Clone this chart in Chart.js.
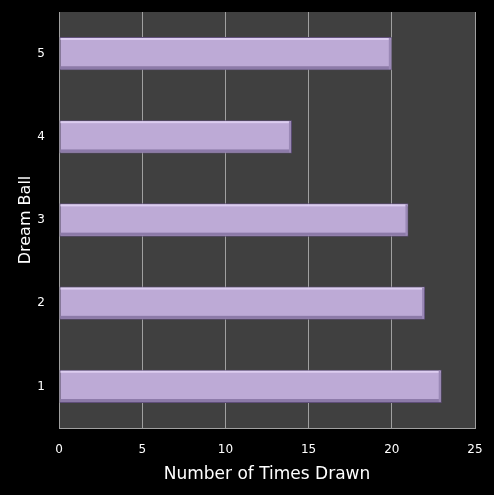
<!DOCTYPE html>
<html>
<head>
<meta charset="utf-8">
<script src="https://cdn.jsdelivr.net/npm/chart.js@4/dist/chart.umd.min.js"></script>
<style>
  html, body { margin: 0; padding: 0; background: #000; }
  #wrap { width: 494px; height: 495px; }
</style>
</head>
<body>
<div id="wrap"><canvas id="chart"></canvas></div>
<script>
// data
const balls = ['1', '2', '3', '4', '5'];
const timesDrawn = [23, 22, 21, 14, 20];
const xTicks = [0, 5, 10, 15, 20, 25];

const FONT = "'DejaVu Sans', sans-serif";

// black page, gray plot area
const backgroundPlugin = {
  id: 'bg',
  beforeDraw(chart) {
    const { ctx, chartArea: a } = chart;
    ctx.save();
    ctx.fillStyle = '#000';
    ctx.fillRect(0, 0, chart.width, chart.height);
    ctx.fillStyle = '#404040';
    ctx.fillRect(a.left, a.top, a.right - a.left, a.bottom - a.top);
    ctx.restore();
  }
};

// bevel look on the bars: light top edge, dark bottom edge
const bevelPlugin = {
  id: 'bevel',
  afterDatasetsDraw(chart) {
    const { ctx } = chart;
    chart.getDatasetMeta(0).data.forEach(bar => {
      const top = bar.y - bar.height / 2;
      const bottom = bar.y + bar.height / 2;
      const left = bar.base;
      const right = bar.x;
      ctx.save();
      ctx.fillStyle = '#dccdf0';
      ctx.fillRect(left + 1, top + 1, right - left - 2, 2);
      ctx.fillStyle = '#8c7aa8';
      ctx.fillRect(left + 1, bottom - 4, right - left - 2, 3);
      ctx.fillStyle = '#9a88b6';
      ctx.fillRect(right - 3, top + 1, 2, bottom - top - 2);
      ctx.restore();
    });
  }
};

new Chart(document.getElementById('chart'), {
  type: 'bar',
  data: {
    labels: balls,
    datasets: [{
      data: timesDrawn,
      backgroundColor: '#bdaad6',
      borderColor: '#5e4e78',
      borderWidth: 1,
      borderSkipped: false,
      barPercentage: 0.8,
      categoryPercentage: 0.5
    }]
  },
  options: {
    indexAxis: 'y',
    responsive: true,
    maintainAspectRatio: false,
    animation: false,
    layout: { padding: { top: 12, right: 19, left: 16, bottom: 10 } },
    plugins: {
      legend: { display: false },
      tooltip: { enabled: false }
    },
    scales: {
      x: {
        min: 0,
        max: 25,
        afterBuildTicks: axis => { axis.ticks = xTicks.map(v => ({ value: v })); },
        afterFit: axis => {
          axis.height = 57;
          axis.paddingLeft = 0;
          axis.paddingRight = 0;
        },
        grid: { color: '#a0a0a0', lineWidth: 1, drawTicks: false },
        border: { color: '#a0a0a0' },
        ticks: { color: '#ffffff', padding: 15, font: { family: FONT, size: 12 } },
        title: {
          display: true,
          text: 'Number of Times Drawn',
          color: '#ffffff',
          font: { family: FONT, size: 17 },
          padding: { top: 4, bottom: 0 }
        }
      },
      y: {
        reverse: true,
        afterFit: axis => {
          axis.width = 43;
          axis.paddingTop = 0;
          axis.paddingBottom = 0;
        },
        grid: { display: false, drawTicks: false },
        border: { color: '#a0a0a0' },
        ticks: { color: '#ffffff', padding: 14, font: { family: FONT, size: 12 } },
        title: {
          display: true,
          text: 'Dream Ball',
          color: '#ffffff',
          font: { family: FONT, size: 16 },
          padding: { top: 0, bottom: 0 }
        }
      }
    }
  },
  plugins: [backgroundPlugin, bevelPlugin]
});
</script>
</body>
</html>
